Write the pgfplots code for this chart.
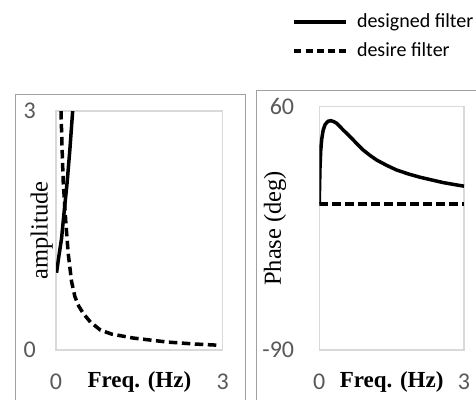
\documentclass[border=0pt]{standalone}
\usepackage{fontspec}
\setmainfont{Liberation Serif}
\newfontfamily\calfont{Carlito}
\usepackage{pgfplots}
\pgfplotsset{compat=1.18}
\definecolor{tickgray}{HTML}{595959}
\definecolor{framegray}{HTML}{A0A0A0}
\definecolor{plotgray}{HTML}{D9D9D9}

\pgfplotstableread{
x y
0.01 0.97
0.05 1.17
0.10 1.40
0.15 1.76
0.20 2.10
0.25 2.52
0.30 3.00
}\ampdesigned

\pgfplotstableread{
x y
0.09 3.00
0.11 2.52
0.13 2.11
0.16 1.78
0.18 1.57
0.22 1.21
0.28 0.86
0.34 0.67
0.41 0.55
0.49 0.46
0.62 0.35
0.80 0.25
1.00 0.20
1.39 0.15
2.00 0.10
2.50 0.075
2.92 0.06
}\ampdesire

\pgfplotstableread{
x y
0.000 0
0.005 10
0.015 23
0.030 33
0.050 40
0.080 45.5
0.120 49
0.180 51
0.240 51.4
0.300 50.8
0.360 49.8
0.500 45.5
0.640 41.5
0.800 36.5
0.910 33.3
1.050 30.0
1.190 27.1
1.400 23.8
1.600 21.0
1.850 18.5
2.090 16.5
2.350 14.7
2.570 13.2
2.800 12.0
3.000 11.0
}\phasedesigned

\pgfplotstableread{
x y
0 0
3 0
}\phasedesire

\begin{document}
\begin{tikzpicture}[x=1pt,y=1pt]
\path[use as bounding box] (0,0) rectangle (476,399);
\draw[framegray, line width=1pt] (15,-5) -- (15,304.7) -- (245,304.7) -- (245,-5);
\draw[framegray, line width=1pt] (256,-5) -- (256,308.3) -- (485,308.3);

\pgfplotsset{myax/.style={
  scale only axis,
  axis line style={plotgray, line width=1.3pt},
  xmin=0, xmax=3,
  xtick={0,3}, xticklabels={0,3},
  major tick length=0pt,
  tick style={draw=none},
  ticklabel style={font=\calfont\fontsize{24}{28}\selectfont, text=tickgray, inner sep=0pt},
  xticklabel style={anchor=center, yshift=-32pt},
  xlabel style={at={(axis description cs:0.5,0)}, anchor=center, yshift=-32pt,
    font=\bfseries\fontsize{23}{27}\selectfont},
  ylabel style={at={(axis description cs:0,0.5)}, anchor=center, rotate=0,
    font=\fontsize{24.5}{28}\selectfont},
  xlabel={Freq. (Hz)},
}}

\begin{axis}[myax,
  at={(56pt,49pt)}, anchor=south west,
  width=166.7pt, height=239pt,
  ymin=0, ymax=3,
  ytick={0,3}, yticklabels={0,3},
  yticklabel style={anchor=east, xshift=-20pt},
  ylabel={amplitude},
  ylabel style={xshift=0pt, yshift=14.3pt},
]
\addplot[black, line width=3.5pt] table[x=x,y=y] {\ampdesigned};
\addplot[black, line width=3.5pt, dash pattern=on 8.5pt off 4.5pt] table[x=x,y=y] {\ampdesire};
\end{axis}

\begin{axis}[myax,
  at={(319.3pt,49pt)}, anchor=south west,
  width=144.7pt, height=243.3pt,
  ymin=-90, ymax=60,
  ytick={-90,60}, yticklabels={-90,60},
  yticklabel style={anchor=east, xshift=-25pt},
  ylabel={Phase (deg)},
  ylabel style={yshift=44.3pt},
  legend style={draw=none, fill=none, inner sep=0pt, outer sep=0pt,
    at={(rel axis cs:-0.185,1.288)}, anchor=west,
    font=\calfont\fontsize{20}{24}\selectfont,
    row sep=9pt,
    nodes={inner sep=0pt, text height=15pt, text depth=5pt}},
  legend cell align=left,
  legend image code/.code={\draw[#1] (0pt,0pt) -- (52pt,0pt);},
]
\addplot[black, line width=3.5pt, forget plot] table[x=x,y=y] {\phasedesigned};
\addplot[black, line width=3.5pt, dash pattern=on 8.5pt off 4.5pt, forget plot] table[x=x,y=y] {\phasedesire};
\addlegendimage{black, line width=3.5pt}
\addlegendentry{\hspace{9pt}designed filter}
\addlegendimage{black, line width=3.5pt, dash pattern=on 7pt off 4.25pt}
\addlegendentry{\hspace{9pt}desire filter}
\end{axis}
\end{tikzpicture}
\end{document}
